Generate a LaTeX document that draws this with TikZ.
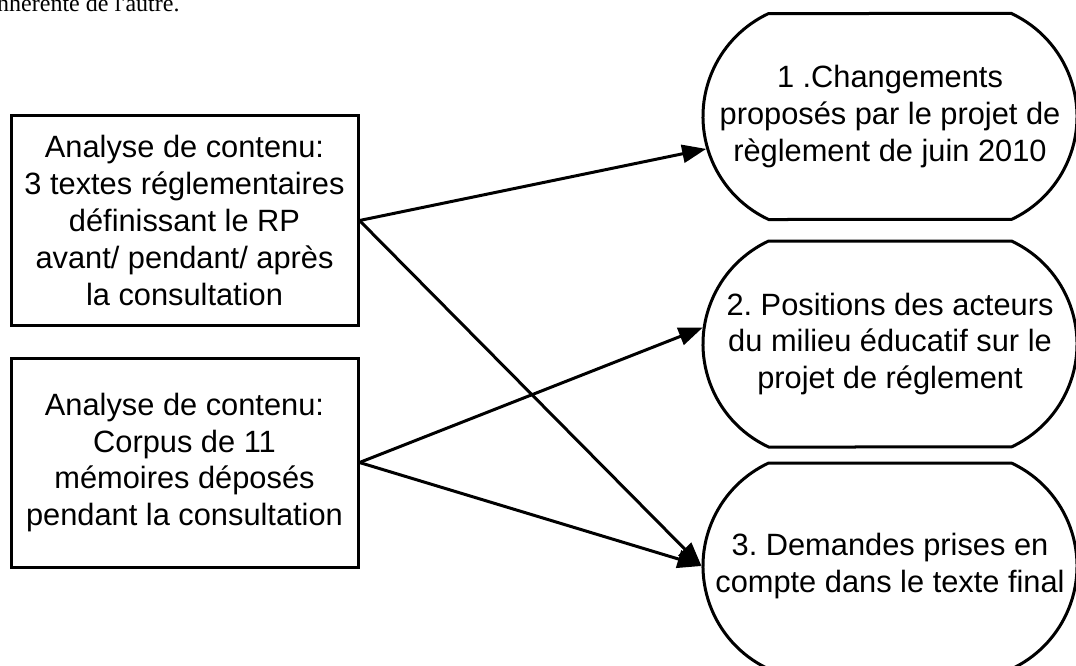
\documentclass[tikz,border=0pt]{standalone}
\usepackage{fontspec}
\setmainfont{Liberation Sans}
\newfontfamily\prevfont{Liberation Serif}
\usepackage{tikz}
\usetikzlibrary{positioning,shapes.misc,arrows.meta}
\tikzset{
  boxsrc/.style={draw, line width=3pt, rectangle, minimum width=347pt, minimum height=209pt, inner sep=0pt, align=center},
  boxres/.style={draw, line width=3pt, rounded rectangle, rounded rectangle arc length=130, minimum width=374pt, minimum height=206pt, inner sep=0pt, align=center},
  edgelink/.style={black, line width=3pt, -{Triangle[length=24pt,width=18pt]}}
}
\frenchspacing

\begin{document}
\begin{tikzpicture}[x=1pt, y=-1pt, font=\fontsize{30.8}{36.8}\selectfont]
\useasboundingbox (0,0) rectangle (1076,666);
\node[anchor=base east, font=\prevfont\fontsize{24}{28}\selectfont] (prev) at (183,12) {inhérente de l'autre.};
\node[boxsrc] (a) at (184.5,220.5) {Analyse de contenu:\\3 textes réglementaires\\définissant le RP\\avant/ pendant/ après\\la consultation};
\node[boxsrc] (b) at (184.5,462.5) {Analyse de contenu:\\Corpus de 11\\mémoires déposés\\pendant la consultation};
\node[boxres] (s1) at (890,116.5) {1 .Changements\\proposés par le projet de\\règlement de juin 2010};
\node[boxres] (s2) at (890,344) {2. Positions des acteurs\\du milieu éducatif sur le\\projet de réglement};
\node[boxres] (s3) at (890,566) {3. Demandes prises en\\compte dans le texte final};
\draw[edgelink] (a.east) -- (s1.190);
\draw[edgelink] (a.east) -- (s3.west);
\draw[edgelink] (b.east) -- (s2.175);
\draw[edgelink] (b.east) -- (s3.west);
\end{tikzpicture}
\end{document}
